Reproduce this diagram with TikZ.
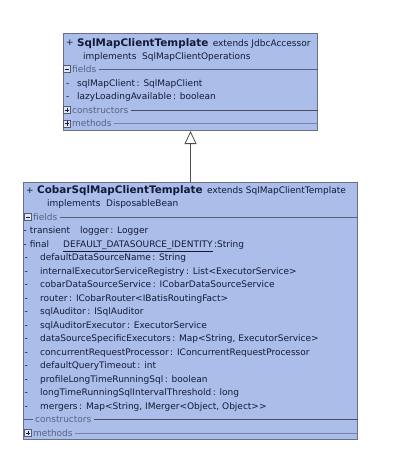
\documentclass[tikz,border=0pt]{standalone}
\usepackage{fontspec}
\setmainfont{DejaVu Sans}
\usetikzlibrary{arrows.meta,positioning}

\definecolor{classfill}{RGB}{171,190,234}
\definecolor{classline}{RGB}{105,110,140}
\definecolor{classtext}{RGB}{18,26,55}
\definecolor{sectext}{RGB}{88,98,130}

\tikzset{
  classbox/.style={draw=classline, fill=classfill, line width=1pt, anchor=north west, inner sep=0pt},
  member/.style={anchor=base west, inner sep=0pt, text=classtext, font=\fontsize{9}{11}\selectfont},
  title/.style={member, font=\bfseries\fontsize{10.4}{12}\selectfont},
  section/.style={member, text=sectext},
  secline/.style={draw=classline!85!black, line width=0.6pt},
  secthick/.style={draw=classline!70!black, line width=1.2pt},
  seclight/.style={draw=classline!75!classfill, line width=0.6pt},
  inherit/.style={draw=black!70, line width=0.8pt, -{Triangle[open, length=13pt, width=12pt]}},
  boxminus/.pic={
    \draw[classline!80!black, fill=classfill!35!white, line width=0.6pt] (-3.6,-3.6) rectangle (3.6,3.6);
    \draw[classtext, line width=0.8pt] (-2.2,0) -- (2.2,0);
  },
  boxplus/.pic={
    \draw[classline!80!black, fill=classfill!35!white, line width=0.6pt] (-3.6,-3.6) rectangle (3.6,3.6);
    \draw[classtext, line width=0.8pt] (-2.2,0) -- (2.2,0) (0,-2.2) -- (0,2.2);
  }
}

\begin{document}
\begin{tikzpicture}[x=1pt,y=-1pt]
\useasboundingbox (0,0) rectangle (406,476);

% parent class
\node[classbox, minimum width=254pt, minimum height=97pt] (parent) at (63,33) {};
\node[member] (pplus) at (66,46) {+};
\node[title] (pname) at (77,46.5) {SqlMapClientTemplate};
\node[member] (pext) at ([xshift=4pt]pname.base east) {extends JdbcAccessor};
\node[member] (pimpl) at (83,60) {implements\ \ SqlMapClientOperations};
\pic at (67,69) {boxminus};
\node[section] (pfields) at (72,72.5) {fields};
\draw[secline] ([xshift=2pt]pfields.east) -- (pfields.east -| parent.east);
\node[member] (pd1) at (66,86.3) {-};
\node[member] (pf1) at (77,86.3) {sqlMapClient\,: SqlMapClient};
\node[member] (pd2) at (66,99.8) {-};
\node[member] (pf2) at (77,99.8) {lazyLoadingAvailable\,: boolean};
\pic at (67,110) {boxplus};
\node[section] (pctor) at (72,113.5) {constructors};
\draw[secthick] ([xshift=2pt]pctor.east) -- (pctor.east -| parent.east);
\pic at (67,123.6) {boxplus};
\node[section] (pmeth) at (72,127) {methods};
\draw[seclight] ([xshift=2pt]pmeth.east) -- (pmeth.east -| parent.east);

% child class
\node[classbox, minimum width=334pt, minimum height=257pt] (child) at (23,182) {};
\node[member] (cplus) at (26,193.3) {+};
\node[title] (cname) at (37,193.8) {CobarSqlMapClientTemplate};
\node[member] (cext) at ([xshift=4pt]cname.base east) {extends SqlMapClientTemplate};
\node[member] (cimpl) at (47,206.8) {implements\ \ DisposableBean};
\pic at (28,217) {boxminus};
\node[section] (cfields) at (33,220.3) {fields};
\draw[secline] ([xshift=2pt]cfields.east) -- (cfields.east -| child.east);
\node[member] (cd1) at (23.5,233.8) {- transient};
\node[member] (cf1) at (80,233.8) {logger\,: Logger};
\node[member] (cd2) at (23.5,247.3) {- final};
\node[member] (cf2) at (63,247.3) {\underline{DEFAULT\_DATASOURCE\_IDENTITY}\,:String};
\foreach \t [count=\k from 5] in {
    defaultDataSourceName\,: String,
    internalExecutorServiceRegistry\,: List<ExecutorService>,
    cobarDataSourceService\,: ICobarDataSourceService,
    router\,: ICobarRouter<IBatisRoutingFact>,
    sqlAuditor\,: ISqlAuditor,
    sqlAuditorExecutor\,: ExecutorService,
    {dataSourceSpecificExecutors\,: Map<String, ExecutorService>},
    concurrentRequestProcessor\,: IConcurrentRequestProcessor,
    defaultQueryTimeout\,: int,
    profileLongTimeRunningSql\,: boolean,
    longTimeRunningSqlIntervalThreshold\,: long,
    {mergers\,: Map<String, IMerger<Object, Object>{}>}} {
  \node[member] (cd\k) at (24.5,{193.3+13.5*\k}) {-};
  \node[member] (cf\k) at (40,{193.3+13.5*\k}) {\t};
}
\draw[secline] (24,419.5) -- (33,419.5);
\node[section] (cctor) at (35,422.8) {constructors};
\draw[secthick] ([xshift=2pt]cctor.east) -- (cctor.east -| child.east);
\pic at (28,433) {boxplus};
\node[section] (cmeth) at (33,436.3) {methods};
\draw[seclight] ([xshift=2pt]cmeth.east) -- (cmeth.east -| child.east);

% generalization
\draw[inherit] (child) -- (parent);
\end{tikzpicture}
\end{document}
